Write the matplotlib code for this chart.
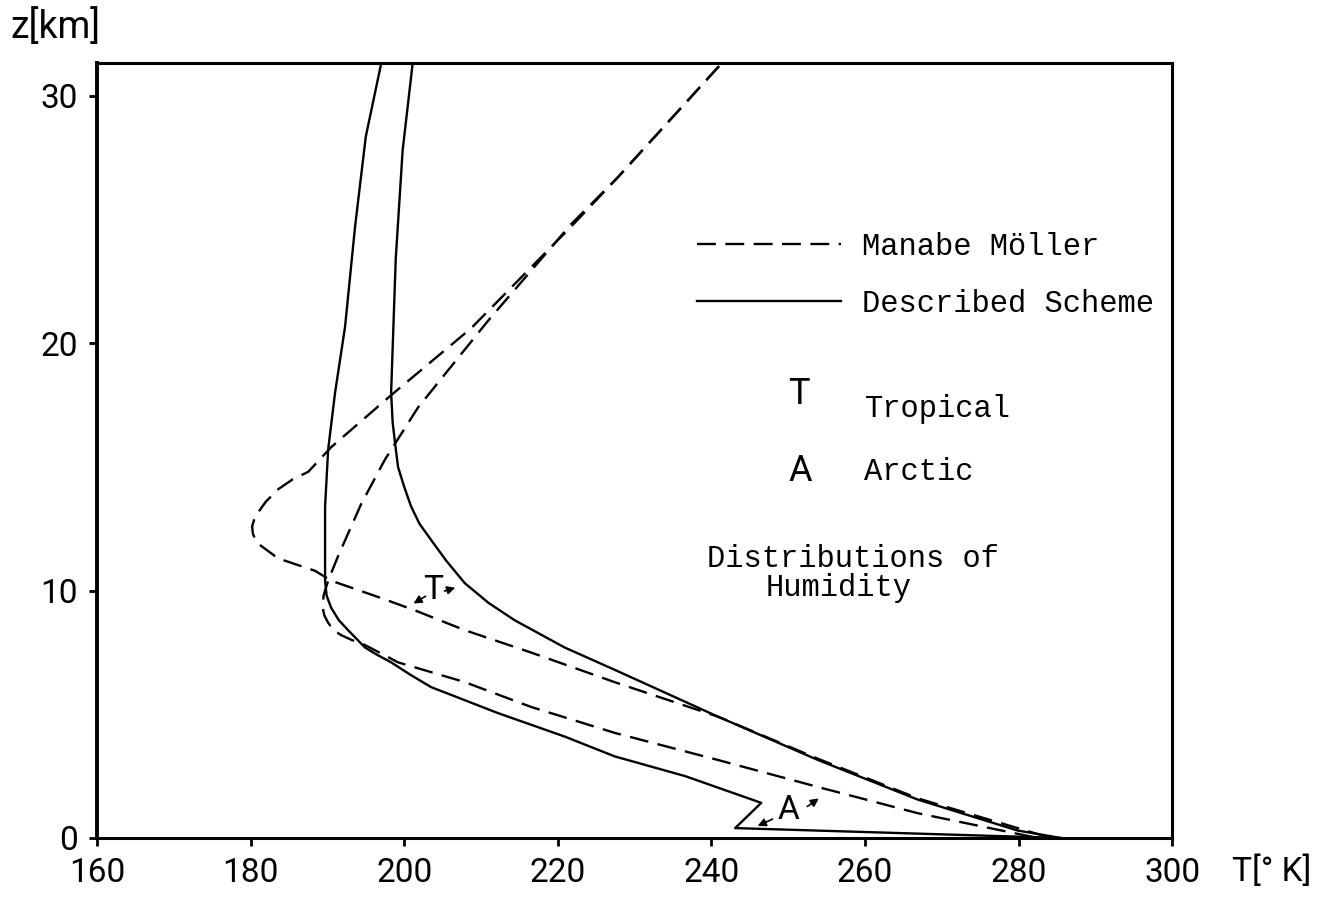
import matplotlib
matplotlib.use("Agg")
import matplotlib.pyplot as plt
from matplotlib.lines import Line2D

plt.rcParams['font.family'] = ['Roboto', 'DejaVu Sans']

# temperature [K] / height [km] profiles
t_arctic_mm = [241.0, 227.8, 221.7, 210.9, 201.8, 197.5, 194.4, 191.4, 190.1, 189.5,
               189.4, 189.6, 190.1, 190.8, 191.8, 193.2, 194.9, 199.2, 207.9, 216.5,
               227.4, 240.9, 253.9, 266.9, 282.5]
z_arctic_mm = [31.2, 26.7, 24.8, 20.9, 17.4, 15.3, 13.5, 11.4, 10.4, 9.8,
               9.3, 9.0, 8.7, 8.4, 8.2, 8.0, 7.8, 7.1, 6.3, 5.3,
               4.25, 3.15, 2.06, 1.0, 0.0]

t_tropic_mm = [241.0, 227.8, 221.7, 208.7, 198.3, 190.5, 187.5, 185.5, 183.6, 182.0,
               180.6, 180.2, 180.3, 180.7, 181.4, 183.6, 188.4, 190.5, 197.0, 201.4,
               207.9, 216.5, 227.4, 240.9, 253.9, 266.9, 284.2]
z_tropic_mm = [31.2, 26.7, 24.7, 20.6, 17.9, 15.8, 14.8, 14.5, 14.1, 13.6,
               13.0, 12.6, 12.3, 12.0, 11.8, 11.3, 10.8, 10.4, 9.7, 9.2,
               8.4, 7.5, 6.3, 4.9, 3.2, 1.6, 0.0]

t_arctic_ds = [197.0, 195.0, 193.6, 192.3, 191.0, 190.1, 189.7, 189.7, 189.9, 190.5,
               191.5, 192.7, 194.9, 196.5, 198.3, 200.8, 203.5, 212.2, 220.9, 227.4,
               236.6, 246.5, 243.1, 285.5]
z_arctic_ds = [31.3, 28.35, 24.7, 20.66, 18.0, 15.7, 13.4, 10.4, 9.8, 9.3,
               8.8, 8.4, 7.7, 7.4, 7.1, 6.6, 6.1, 5.05, 4.1, 3.3,
               2.5, 1.42, 0.4, 0.0]

t_tropic_ds = [201.1, 199.8, 198.9, 198.3, 198.5, 198.8, 199.2, 200.0, 200.9, 202.0,
               203.5, 205.5, 207.9, 211.0, 214.4, 220.9, 227.4, 240.9, 253.9, 266.9,
               279.9, 285.5]
z_tropic_ds = [31.3, 27.8, 23.4, 18.0, 16.8, 16.0, 15.0, 14.2, 13.4, 12.7,
               12.05, 11.2, 10.3, 9.5, 8.8, 7.7, 6.8, 4.9, 3.15, 1.55,
               0.3, 0.0]

x_ticks = [160, 180, 200, 220, 240, 260, 280, 300]
y_ticks = [0, 10, 20, 30]

fig = plt.figure(figsize=(13.38, 8.97), dpi=100)
ax = fig.add_axes([0.0725, 0.0658, 0.8035, 0.864])

dash = (0, (8, 4))
lw = 1.7
ax.plot(t_arctic_mm, z_arctic_mm, color='black', lw=lw, linestyle=dash)
ax.plot(t_tropic_mm, z_tropic_mm, color='black', lw=lw, linestyle=dash)
ax.plot(t_arctic_ds, z_arctic_ds, color='black', lw=lw)
ax.plot(t_tropic_ds, z_tropic_ds, color='black', lw=lw)

ax.set_xlim(160, 300)
ax.set_ylim(0, 31.33)
ax.set_xticks(x_ticks)
ax.set_yticks(y_ticks)
ax.tick_params(direction='out', length=6, width=2, labelsize=24, pad=8)
for s in ax.spines.values():
    s.set_linewidth(2.2)
ax.spines['left'].set_linewidth(2.8)

ax.text(-0.081, 1.046, 'z[km]', transform=ax.transAxes, fontsize=27,
        ha='left', va='center')
ax.text(1.056, -0.044, 'T[° K]', transform=ax.transAxes, fontsize=24,
        ha='left', va='center')

# curve markers with little arrows
arr = dict(arrowstyle='-|>', lw=1.2, color='black', mutation_scale=12)
ax.text(203.75, 10.03, 'T', fontsize=24, ha='center', va='center')
ax.annotate('', xy=(200.9, 9.42), xytext=(203.1, 9.83), arrowprops=arr)
ax.annotate('', xy=(207.0, 10.15), xytext=(204.9, 9.95), arrowprops=arr)
ax.text(250.1, 1.13, 'A', fontsize=24, ha='center', va='center')
ax.annotate('', xy=(245.7, 0.44), xytext=(248.3, 0.81), arrowprops=arr)
ax.annotate('', xy=(254.3, 1.66), xytext=(252.2, 1.21), arrowprops=arr)

mono = {'family': 'Liberation Mono', 'size': 22}
handles = [Line2D([], [], color='black', lw=lw, linestyle=dash),
           Line2D([], [], color='black', lw=lw)]
ax.legend(handles, ['Manabe Möller', 'Described Scheme'], loc='upper left',
          bbox_to_anchor=(0.558, 0.782), frameon=False, prop=mono,
          handlelength=4.7, handletextpad=0.7, labelspacing=0.88,
          borderpad=0, borderaxespad=0)

ax.text(0.653, 0.573, 'T', transform=ax.transAxes, fontsize=26, ha='center', va='center')
ax.text(0.714, 0.553, 'Tropical', transform=ax.transAxes, fontdict=mono, ha='left', va='center')
ax.text(0.654, 0.474, 'A', transform=ax.transAxes, fontsize=26, ha='center', va='center')
ax.text(0.713, 0.472, 'Arctic', transform=ax.transAxes, fontdict=mono, ha='left', va='center')
ax.text(0.567, 0.36, 'Distributions of', transform=ax.transAxes, fontdict=mono,
        ha='left', va='center')
ax.text(0.622, 0.322, 'Humidity', transform=ax.transAxes, fontdict=mono,
        ha='left', va='center')

fig.savefig('out.png', dpi=100)
